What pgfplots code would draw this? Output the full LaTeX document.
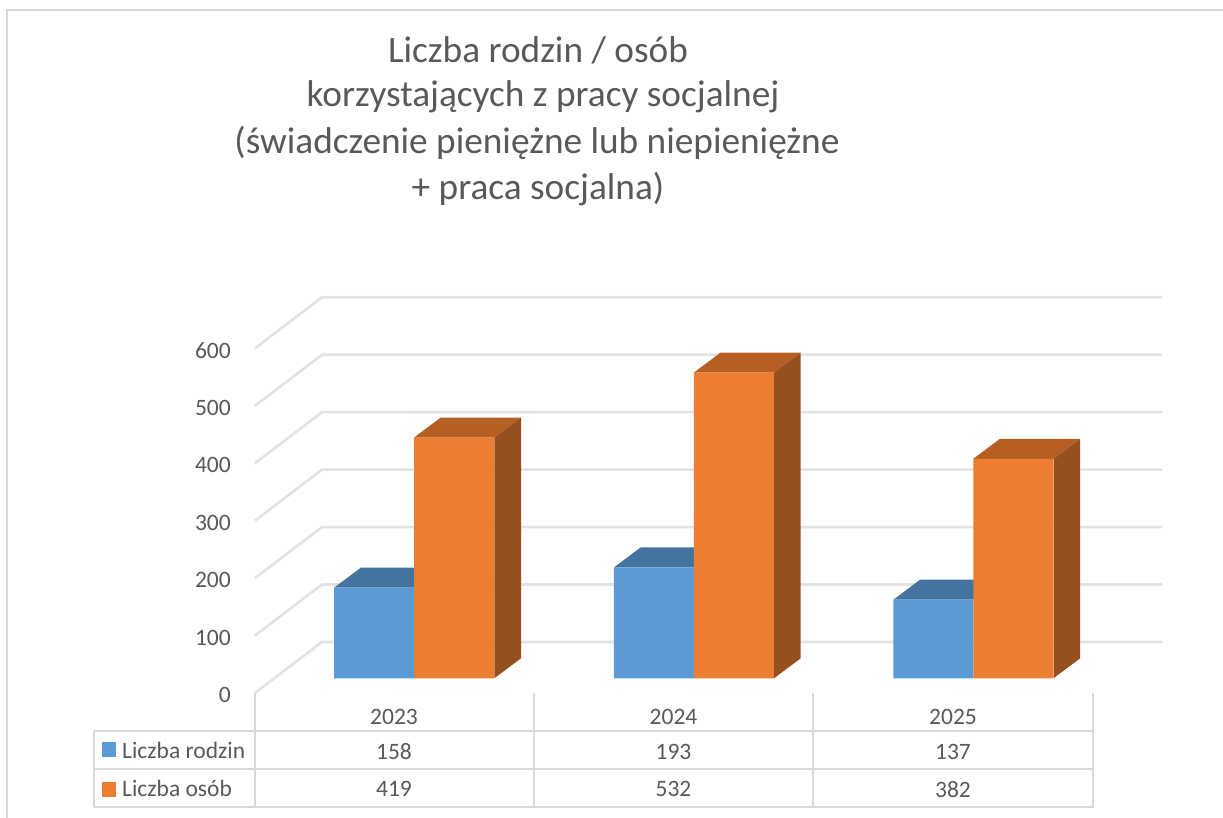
\documentclass[border=0pt]{standalone}
\usepackage{fontspec}
\setmainfont{Carlito}
\usepackage{pgfplots}
\pgfplotsset{compat=1.18}
\definecolor{gridc}{HTML}{E2E2E2}
\definecolor{framec}{HTML}{D9D9D9}
\definecolor{txt}{HTML}{595959}
\definecolor{blueF}{HTML}{5B9BD5}
\definecolor{blueT}{HTML}{44739F}
\definecolor{orangeF}{HTML}{ED7D31}
\definecolor{orangeT}{HTML}{B55F25}
\definecolor{orangeS}{HTML}{964F1E}

\begin{document}
\begin{tikzpicture}[
  lab/.style={text=txt, font=\fontsize{23.5}{23.5}\selectfont, inner sep=0pt},
  ttl/.style={text=txt, font=\fontsize{37.3}{37.3}\selectfont, inner sep=0pt},
]
% 1pt = 1px; x in pixels, y in chart values (front plane)
\begin{axis}[
  width=1223pt, height=818pt, scale only axis,
  xmin=0, xmax=1223, ymin=-243.2, ymax=1180.7,
  hide axis, clip=true,
  ybar, bar width=80,
]
  % keeps the page as large as the whole axis box
  \path[use as bounding box] (axis cs:0,-243.2) rectangle (axis cs:1223,1180.7);

  % gridlines, back wall and floor side
  \addplot[draw=gridc, line width=2.6pt, forget plot, sharp plot] coordinates {(255,-25.6)(322,63.2)(1162,63.2)};
  \addplot[draw=gridc, line width=2.6pt, forget plot, sharp plot] coordinates {(255,74.4)(322,163.2)(1162,163.2)};
  \addplot[draw=gridc, line width=2.6pt, forget plot, sharp plot] coordinates {(255,174.4)(322,263.2)(1162,263.2)};
  \addplot[draw=gridc, line width=2.6pt, forget plot, sharp plot] coordinates {(255,274.4)(322,363.2)(1162,363.2)};
  \addplot[draw=gridc, line width=2.6pt, forget plot, sharp plot] coordinates {(255,374.4)(322,463.2)(1162,463.2)};
  \addplot[draw=gridc, line width=2.6pt, forget plot, sharp plot] coordinates {(255,474.4)(322,563.2)(1162,563.2)};
  \addplot[draw=gridc, line width=2.6pt, forget plot, sharp plot] coordinates {(255,574.4)(322,663.2)(1162,663.2)};

  % blue tops
  \addplot[fill=blueT, draw=none, sharp plot] coordinates {(334.3,158)(361,192.8)(440.7,192.8)(414,158)} -- cycle;
  \addplot[fill=blueT, draw=none, sharp plot] coordinates {(614,193)(640.7,227.8)(720.4,227.8)(693.7,193)} -- cycle;
  \addplot[fill=blueT, draw=none, sharp plot] coordinates {(893.5,137)(920.2,171.8)(999.9,171.8)(973.2,137)} -- cycle;
  % blue fronts
  \addplot[ybar, fill=blueF, draw=none, bar shift=0pt] coordinates {(374.15,158)(653.85,193)(933.35,137)};

  % orange tops
  \addplot[fill=orangeT, draw=none, sharp plot] coordinates {(414,419)(440.7,453.8)(521,453.8)(494.3,419)} -- cycle;
  \addplot[fill=orangeT, draw=none, sharp plot] coordinates {(693.7,532)(720.4,566.8)(800.7,566.8)(774,532)} -- cycle;
  \addplot[fill=orangeT, draw=none, sharp plot] coordinates {(973.2,382)(999.9,416.8)(1080.2,416.8)(1053.5,382)} -- cycle;
  % orange sides
  \addplot[fill=orangeS, draw=none, sharp plot] coordinates {(494.3,0)(521,34.8)(521,453.8)(494.3,419)} -- cycle;
  \addplot[fill=orangeS, draw=none, sharp plot] coordinates {(774,0)(800.7,34.8)(800.7,566.8)(774,532)} -- cycle;
  \addplot[fill=orangeS, draw=none, sharp plot] coordinates {(1053.5,0)(1080.2,34.8)(1080.2,416.8)(1053.5,382)} -- cycle;
  % orange fronts
  \addplot[ybar, fill=orangeF, draw=none, bar shift=0pt] coordinates {(454.15,419)(733.85,532)(1013.35,382)};

  % data table lines
  \addplot[draw=framec, line width=2pt, sharp plot] coordinates {(255,-25.6)(255,-225)};
  \addplot[draw=framec, line width=2pt, sharp plot] coordinates {(534,-25.6)(534,-225)};
  \addplot[draw=framec, line width=2pt, sharp plot] coordinates {(813,-25.6)(813,-225)};
  \addplot[draw=framec, line width=2pt, sharp plot] coordinates {(1092.5,-25.6)(1092.5,-225)};
  \addplot[draw=framec, line width=2pt, sharp plot] coordinates {(93.5,-91.6)(1092.5,-91.6)};
  \addplot[draw=framec, line width=2pt, sharp plot] coordinates {(93.5,-158.3)(1092.5,-158.3)};
  \addplot[draw=framec, line width=2pt, sharp plot] coordinates {(93.5,-224)(1092.5,-224)};
  \addplot[draw=framec, line width=2pt, sharp plot] coordinates {(93.5,-91.6)(93.5,-224)};

  % outer frame
  \addplot[draw=framec, line width=2pt, sharp plot] coordinates {(7,-243.2)(7,1163.3)(1223,1163.3)};

  % legend keys of the table
  \addplot[fill=blueF, draw=none, sharp plot] coordinates {(102,-110.6)(116,-110.6)(116,-136.7)(102,-136.7)} -- cycle;
  \addplot[fill=orangeF, draw=none, sharp plot] coordinates {(102,-180.4)(116,-180.4)(116,-206.5)(102,-206.5)} -- cycle;

  % y labels
  \node[lab, anchor=east] at (axis cs:231,-29) {0};
  \node[lab, anchor=east] at (axis cs:231,71) {100};
  \node[lab, anchor=east] at (axis cs:231,171) {200};
  \node[lab, anchor=east] at (axis cs:231,271) {300};
  \node[lab, anchor=east] at (axis cs:231,371) {400};
  \node[lab, anchor=east] at (axis cs:231,471) {500};
  \node[lab, anchor=east] at (axis cs:231,571) {600};

  % table text
  \node[lab] at (axis cs:394,-67) {2023};
  \node[lab] at (axis cs:673.5,-67) {2024};
  \node[lab] at (axis cs:953,-67) {2025};
  \node[lab] at (axis cs:394,-128) {158};
  \node[lab] at (axis cs:673.5,-128) {193};
  \node[lab] at (axis cs:953,-128) {137};
  \node[lab] at (axis cs:394,-193) {419};
  \node[lab] at (axis cs:673.5,-193) {532};
  \node[lab] at (axis cs:953,-193) {382};
  \node[lab, anchor=west] at (axis cs:122,-125) {Liczba rodzin};
  \node[lab, anchor=west] at (axis cs:122,-191) {Liczba osób};

  % title
  \node[ttl] at (axis cs:538,1093) {Liczba rodzin / osób};
  \node[ttl] at (axis cs:543,1012) {korzystających z pracy socjalnej};
  \node[ttl] at (axis cs:537,932) {(świadczenie pieniężne lub niepieniężne};
  \node[ttl] at (axis cs:538,852) {+ praca socjalna)};
\end{axis}
\end{tikzpicture}
\end{document}
